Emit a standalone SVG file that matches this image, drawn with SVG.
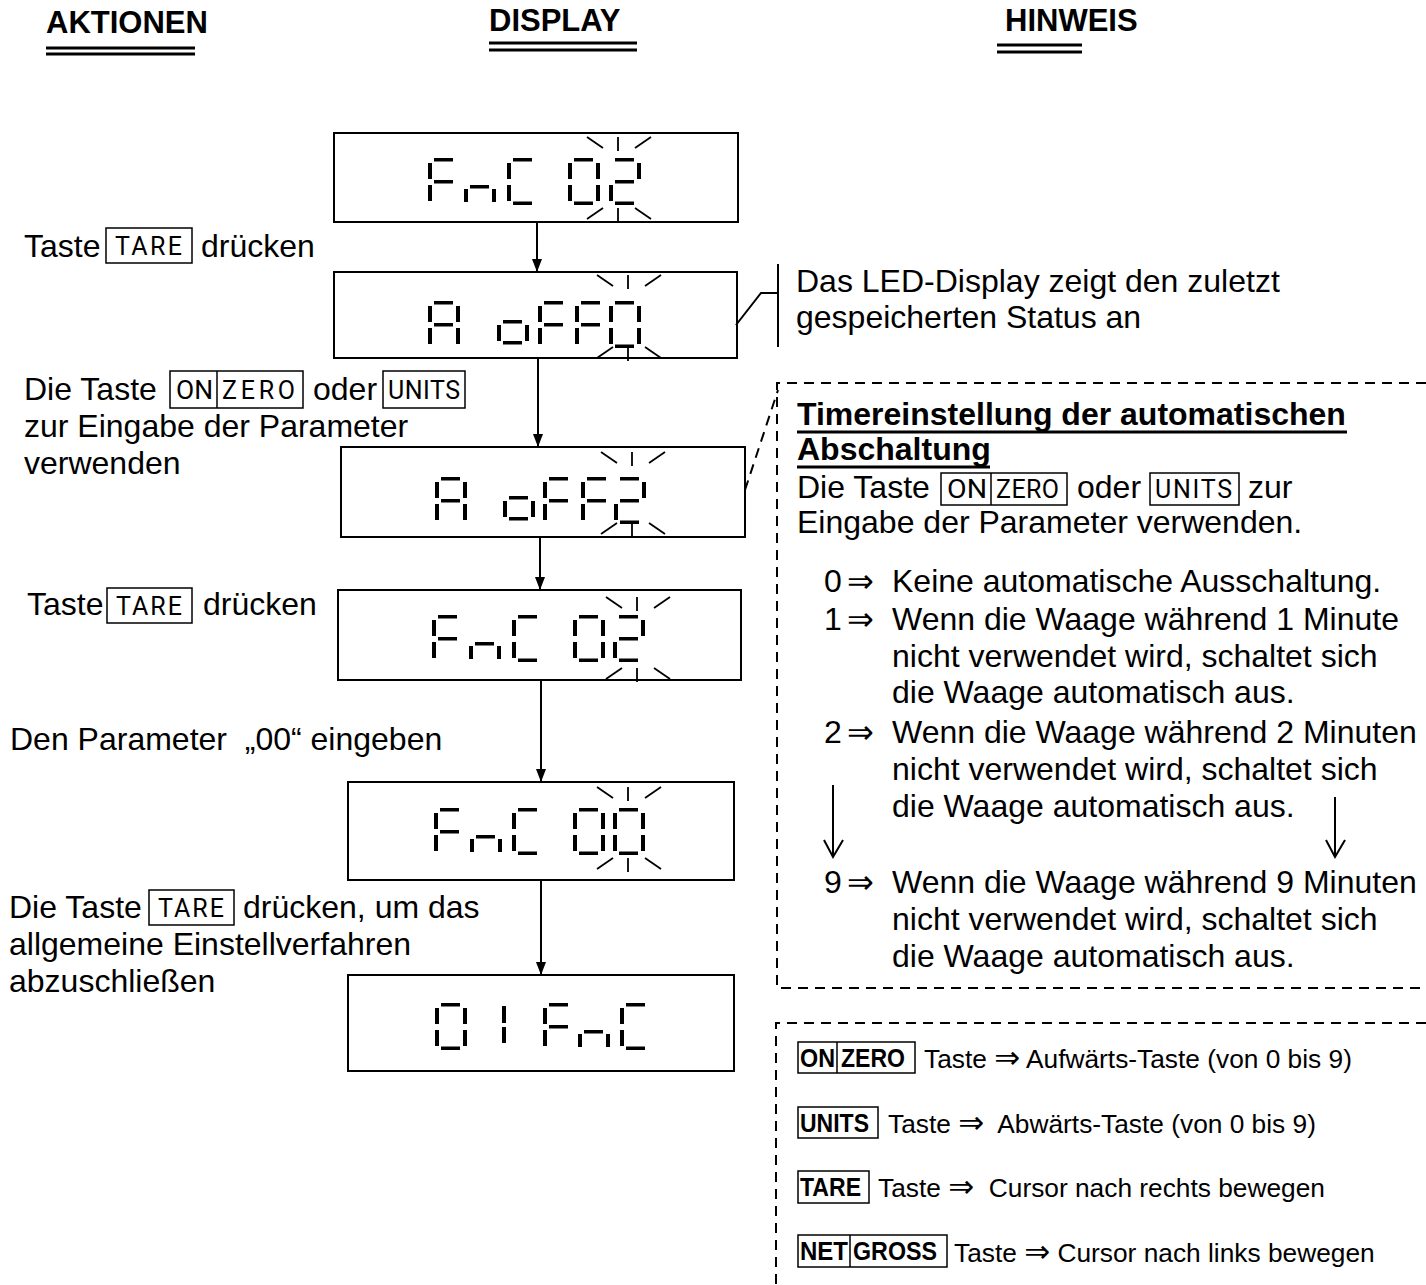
<svg xmlns="http://www.w3.org/2000/svg" width="1426" height="1285" viewBox="0 0 1426 1285">
<style>
text{font-family:"Liberation Sans",Arial,sans-serif;fill:#000}
.hd{font-size:31px;font-weight:bold}
.act{font-size:32px}
.note{font-size:32px}
.leg{font-size:26.3px}
.key{font-family:Roboto,"DejaVu Sans",sans-serif;font-size:25px}
.kb{font-family:"Liberation Sans",Arial,sans-serif;font-size:25px;font-weight:bold}
.sym{font-family:"DejaVu Sans",sans-serif}
.kbox{fill:none;stroke:#000;stroke-width:1.5}
.disp{fill:#fff;stroke:#000;stroke-width:2}
.ln{stroke:#000;stroke-width:2;fill:none}
.bl{stroke:#000;stroke-width:1.8;fill:none}
.dash{stroke:#000;stroke-width:2;fill:none;stroke-dasharray:10 7}
.ul{stroke:#000;stroke-width:3}
</style>
<defs>
<marker id="ah" markerUnits="userSpaceOnUse" markerWidth="13" markerHeight="10" refX="13" refY="5" orient="auto"><path d="M0,0 L13,5 L0,10 z" fill="#000"/></marker>
<g id="gF"><rect x="6" y="0" width="19" height="3.5"/><rect x="0" y="5" width="4" height="16"/><rect x="6" y="22" width="19" height="3.5"/><rect x="0" y="27" width="4" height="16"/></g>
<g id="gn"><rect x="6" y="27" width="19" height="3.5"/><rect x="0" y="31" width="4" height="13"/><rect x="28" y="31" width="4" height="13"/></g>
<g id="gC"><rect x="6" y="0" width="19" height="3.5"/><rect x="0" y="5" width="4" height="16"/><rect x="0" y="27" width="4" height="16"/><rect x="6" y="43.5" width="19" height="3.5"/></g>
<g id="g0"><rect x="6" y="0" width="19" height="3.5"/><rect x="0" y="5" width="4" height="16"/><rect x="28" y="5" width="4" height="16"/><rect x="0" y="27" width="4" height="16"/><rect x="28" y="27" width="4" height="16"/><rect x="6" y="43.5" width="19" height="3.5"/></g>
<g id="g2"><rect x="6" y="0" width="19" height="3.5"/><rect x="28" y="5" width="4" height="16"/><rect x="6" y="22" width="19" height="3.5"/><rect x="0" y="27" width="4" height="16"/><rect x="6" y="43.5" width="19" height="3.5"/></g>
<g id="gA"><rect x="6" y="0" width="19" height="3.5"/><rect x="0" y="5" width="4" height="16"/><rect x="28" y="5" width="4" height="16"/><rect x="6" y="22" width="19" height="3.5"/><rect x="0" y="27" width="4" height="16"/><rect x="28" y="27" width="4" height="16"/></g>
<g id="go"><rect x="6" y="19" width="19" height="3.5"/><rect x="0" y="24" width="4" height="16"/><rect x="28" y="24" width="4" height="16"/><rect x="6" y="40" width="19" height="3.5"/></g>
<g id="g1"><rect x="28" y="3" width="4" height="17"/><rect x="28" y="24" width="4" height="16"/></g>
<g id="bt" class="bl"><line x1="-31" y1="0" x2="-15" y2="11"/><line x1="0" y1="0" x2="0" y2="14"/><line x1="17" y1="11" x2="33" y2="0"/></g>
<g id="bb" class="bl"><line x1="-31" y1="11" x2="-15" y2="0"/><line x1="0" y1="0" x2="0" y2="14"/><line x1="17" y1="0" x2="33" y2="11"/></g>
</defs>
<rect width="1426" height="1285" fill="#fff"/>

<g id="headers">
<text class="hd" x="46" y="33">AKTIONEN</text>
<line class="ul" x1="46" y1="48" x2="195" y2="48"/><line class="ul" x1="46" y1="54" x2="195" y2="54"/>
<text class="hd" x="489" y="31">DISPLAY</text>
<line class="ul" x1="489" y1="43" x2="637" y2="43"/><line class="ul" x1="489" y1="50" x2="637" y2="50"/>
<text class="hd" x="1005" y="31">HINWEIS</text>
<line class="ul" x1="997" y1="45" x2="1082" y2="45"/><line class="ul" x1="997" y1="52" x2="1082" y2="52"/>
</g>

<g id="display1">
<rect class="disp" x="334" y="133" width="404" height="89"/>
<use href="#gF" x="428" y="158"/><use href="#gn" x="464" y="158"/><use href="#gC" x="507" y="158"/><use href="#g0" x="568" y="158"/><use href="#g2" x="609" y="158"/>
<use href="#bt" x="618" y="137"/><use href="#bb" x="618" y="208"/>
</g>
<g id="display2">
<rect class="disp" x="334" y="272" width="403" height="86"/>
<use href="#gA" x="428" y="301"/><use href="#go" x="497" y="301"/><use href="#gF" x="538" y="301"/><use href="#gF" x="575" y="301"/><use href="#g0" x="609" y="301"/>
<use href="#bt" x="628" y="275"/><use href="#bb" x="628" y="347"/>
</g>
<g id="display3">
<rect class="disp" x="341" y="447" width="404" height="90"/>
<use href="#gA" x="435" y="477"/><use href="#go" x="503" y="477"/><use href="#gF" x="543" y="477"/><use href="#gF" x="581" y="477"/><use href="#g2" x="614" y="477"/>
<use href="#bt" x="632" y="452"/><use href="#bb" x="632" y="523"/>
</g>
<g id="display4">
<rect class="disp" x="338" y="590" width="403" height="90"/>
<use href="#gF" x="432" y="615"/><use href="#gn" x="469" y="615"/><use href="#gC" x="512" y="615"/><use href="#g0" x="573" y="615"/><use href="#g2" x="613" y="615"/>
<use href="#bt" x="637" y="597"/><use href="#bb" x="637" y="668"/>
</g>
<g id="display5">
<rect class="disp" x="348" y="782" width="386" height="98"/>
<use href="#gF" x="434" y="808"/><use href="#gn" x="470" y="808"/><use href="#gC" x="512" y="808"/><use href="#g0" x="573" y="808"/><use href="#g0" x="613" y="808"/>
<use href="#bt" x="628" y="787"/><use href="#bb" x="628" y="858"/>
</g>
<g id="display6">
<rect class="disp" x="348" y="975" width="386" height="96"/>
<use href="#g0" x="435" y="1003"/><use href="#g1" x="474" y="1003"/><use href="#gF" x="543" y="1003"/><use href="#gn" x="578" y="1003"/><use href="#gC" x="620" y="1003"/>
</g>

<g id="connectors">
<line class="ln" x1="537" y1="222" x2="537" y2="272" marker-end="url(#ah)"/>
<line class="ln" x1="538" y1="358" x2="538" y2="447" marker-end="url(#ah)"/>
<line class="ln" x1="540" y1="537" x2="540" y2="590" marker-end="url(#ah)"/>
<line class="ln" x1="541" y1="680" x2="541" y2="782" marker-end="url(#ah)"/>
<line class="ln" x1="541" y1="880" x2="541" y2="975" marker-end="url(#ah)"/>
<polyline class="ln" stroke-width="1.5" points="736,325 761,293 778,293"/>
<line class="ln" x1="778" y1="264" x2="778" y2="347"/>
<line class="dash" x1="745" y1="490" x2="778" y2="390"/>
</g>

<g id="action1">
<text class="act" x="24" y="257">Taste</text>
<rect class="kbox" x="106" y="228" width="86" height="35"/>
<text class="key" x="115" y="255" textLength="67" lengthAdjust="spacing">TARE</text>
<text class="act" x="201" y="257">drücken</text>
</g>
<g id="action2">
<text class="act" x="24" y="400">Die Taste</text>
<rect class="kbox" x="170" y="371" width="133" height="37"/>
<line class="kbox" x1="217" y1="371" x2="217" y2="408"/>
<text class="key" x="176" y="399" textLength="37" lengthAdjust="spacingAndGlyphs">ON</text>
<text class="key" x="222" y="399" textLength="73" lengthAdjust="spacing">ZERO</text>
<text class="act" x="313" y="400">oder</text>
<rect class="kbox" x="383" y="371" width="82" height="37"/>
<text class="key" x="388" y="399" textLength="72" lengthAdjust="spacing">UNITS</text>
<text class="act" x="24" y="437">zur Eingabe der Parameter</text>
<text class="act" x="24" y="474">verwenden</text>
</g>
<g id="action3">
<text class="act" x="27" y="615">Taste</text>
<rect class="kbox" x="107" y="588" width="85" height="35"/>
<text class="key" x="116" y="615" textLength="66" lengthAdjust="spacing">TARE</text>
<text class="act" x="203" y="615">drücken</text>
</g>
<g id="action4">
<text class="act" x="10" y="750">Den Parameter &#160;„00“ eingeben</text>
</g>
<g id="action5">
<text class="act" x="9" y="918">Die Taste</text>
<rect class="kbox" x="149" y="890" width="85" height="35"/>
<text class="key" x="158" y="917" textLength="66" lengthAdjust="spacing">TARE</text>
<text class="act" x="243" y="918">drücken, um das</text>
<text class="act" x="9" y="955">allgemeine Einstellverfahren</text>
<text class="act" x="9" y="992">abzuschließen</text>
</g>

<g id="note1">
<text class="note" x="796" y="292">Das LED-Display zeigt den zuletzt</text>
<text class="note" x="796" y="328">gespeicherten Status an</text>
</g>

<g id="note2">
<path class="dash" d="M1426,383 H777 V988 H1426"/>
<text class="note" x="797" y="425" font-weight="bold">Timereinstellung der automatischen</text>
<line class="ul" x1="797" y1="432" x2="1347" y2="432"/>
<text class="note" x="797" y="460" font-weight="bold">Abschaltung</text>
<line class="ul" x1="797" y1="467" x2="990" y2="467"/>
<text class="note" x="797" y="498">Die Taste</text>
<rect class="kbox" x="941" y="473" width="126" height="32"/>
<line class="kbox" x1="991" y1="473" x2="991" y2="505"/>
<text class="key" x="947" y="498" textLength="40" lengthAdjust="spacingAndGlyphs">ON</text>
<text class="key" x="996" y="498" textLength="63" lengthAdjust="spacing">ZERO</text>
<text class="note" x="1077" y="498">oder</text>
<rect class="kbox" x="1150" y="473" width="89" height="32"/>
<text class="key" x="1155" y="498" textLength="77" lengthAdjust="spacing">UNITS</text>
<text class="note" x="1248" y="498">zur</text>
<text class="note" x="797" y="533">Eingabe der Parameter verwenden.</text>

<text class="note" x="824" y="592">0</text><text class="note sym" x="847" y="592" font-size="34">⇒</text><text class="note" x="892" y="592">Keine automatische Ausschaltung.</text>
<text class="note" x="824" y="630">1</text><text class="note sym" x="847" y="630" font-size="34">⇒</text><text class="note" x="892" y="630">Wenn die Waage während 1 Minute</text>
<text class="note" x="892" y="667">nicht verwendet wird, schaltet sich</text>
<text class="note" x="892" y="703">die Waage automatisch aus.</text>
<text class="note" x="824" y="743">2</text><text class="note sym" x="847" y="743" font-size="34">⇒</text><text class="note" x="892" y="743">Wenn die Waage während 2 Minuten</text>
<text class="note" x="892" y="780">nicht verwendet wird, schaltet sich</text>
<text class="note" x="892" y="817">die Waage automatisch aus.</text>
<text class="note" x="824" y="893">9</text><text class="note sym" x="847" y="893" font-size="34">⇒</text><text class="note" x="892" y="893">Wenn die Waage während 9 Minuten</text>
<text class="note" x="892" y="930">nicht verwendet wird, schaltet sich</text>
<text class="note" x="892" y="967">die Waage automatisch aus.</text>
<line class="ln" x1="833" y1="785" x2="833" y2="857"/><polyline class="ln" points="824,840 833,857 843,840"/>
<line class="ln" x1="1335" y1="797" x2="1335" y2="857"/><polyline class="ln" points="1326,840 1335,857 1345,840"/>
</g>

<g id="legend">
<path class="dash" d="M1426,1023 H776 V1285"/>
<rect class="kbox" x="798" y="1042" width="117" height="31"/>
<line class="kbox" x1="837" y1="1042" x2="837" y2="1073"/>
<text class="kb" x="800" y="1067" textLength="35" lengthAdjust="spacingAndGlyphs">ON</text>
<text class="kb" x="841" y="1067" textLength="64" lengthAdjust="spacingAndGlyphs">ZERO</text>
<text class="leg" x="924" y="1068">Taste <tspan class="sym" font-size="31">⇒</tspan> Aufwärts-Taste (von 0 bis 9)</text>
<rect class="kbox" x="798" y="1107" width="80" height="31"/>
<text class="kb" x="800" y="1132" textLength="69" lengthAdjust="spacingAndGlyphs">UNITS</text>
<text class="leg" x="888" y="1133">Taste <tspan class="sym" font-size="31">⇒</tspan>&#160; Abwärts-Taste (von 0 bis 9)</text>
<rect class="kbox" x="798" y="1171" width="71" height="32"/>
<text class="kb" x="800" y="1196" textLength="61" lengthAdjust="spacingAndGlyphs">TARE</text>
<text class="leg" x="878" y="1197">Taste <tspan class="sym" font-size="31">⇒</tspan>&#160; Cursor nach rechts bewegen</text>
<rect class="kbox" x="798" y="1235" width="149" height="32"/>
<line class="kbox" x1="850" y1="1235" x2="850" y2="1267"/>
<text class="kb" x="800" y="1260" textLength="48" lengthAdjust="spacingAndGlyphs">NET</text>
<text class="kb" x="853" y="1260" textLength="84" lengthAdjust="spacingAndGlyphs">GROSS</text>
<text class="leg" x="954" y="1262">Taste <tspan class="sym" font-size="31">⇒</tspan> Cursor nach links bewegen</text>
</g>
</svg>
